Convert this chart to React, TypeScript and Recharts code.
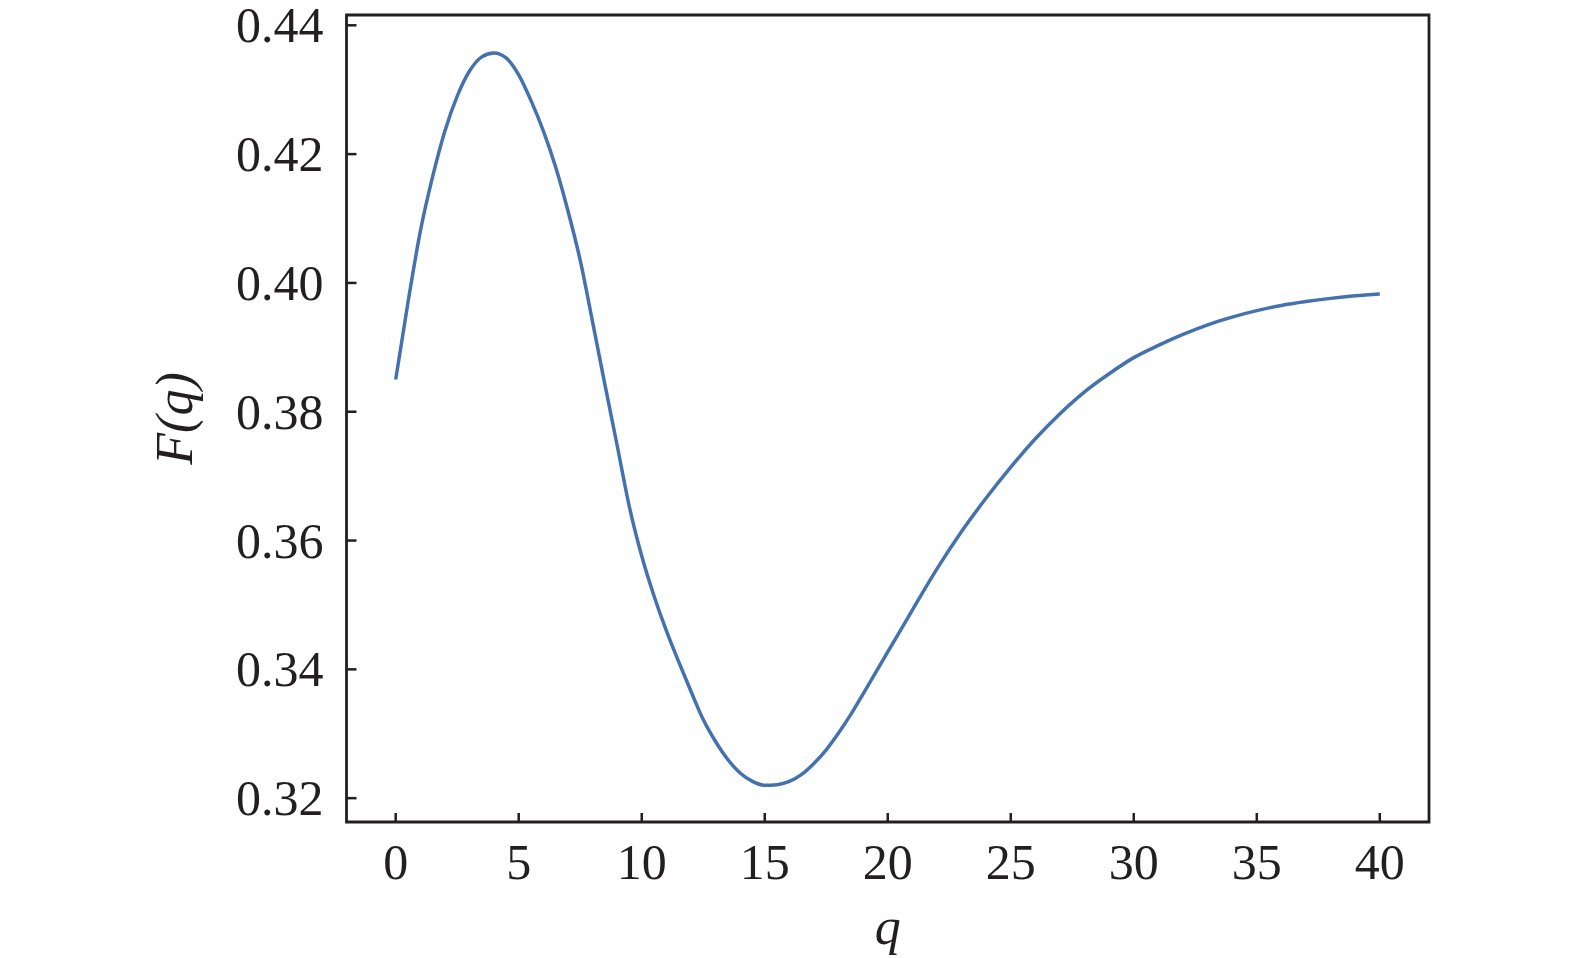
import { LineChart, Line, XAxis, YAxis, ReferenceArea } from "recharts";

// ─── Data ─────────────────────────────────────────────────────────────────────

const qValues = [
  0, 0.5, 1, 1.5, 2, 2.5, 3, 3.5, 4, 4.5, 5, 5.5, 6, 6.5, 7, 7.5, 8, 8.5, 9,
  9.5, 10, 10.5, 11, 11.5, 12, 12.5, 13, 13.5, 14, 14.5, 15, 15.5, 16, 16.5,
  17, 17.5, 18, 18.5, 19, 20, 21, 22, 23, 24, 25, 26, 27, 28, 29, 30, 31, 32,
  33, 34, 35, 36, 37, 38, 39, 40,
];

const fValues = [
  0.385, 0.397, 0.408, 0.4165, 0.4236, 0.429, 0.4329, 0.4351, 0.4357, 0.4349,
  0.4323, 0.4283, 0.4236, 0.418, 0.4112, 0.4035, 0.394, 0.3843, 0.3748,
  0.3652, 0.3576, 0.3514, 0.346, 0.3412, 0.3366, 0.3322, 0.3288, 0.326,
  0.3239, 0.3226, 0.322, 0.3221, 0.3226, 0.3237, 0.3254, 0.3275, 0.3301,
  0.333, 0.3362, 0.3427, 0.3492, 0.3556, 0.3614, 0.3666, 0.3714, 0.3758,
  0.3797, 0.3831, 0.3859, 0.3884, 0.3903, 0.392, 0.3935, 0.3947, 0.3957,
  0.3965, 0.3971, 0.3976, 0.398, 0.3983,
];

const xTicks = [0, 5, 10, 15, 20, 25, 30, 35, 40];
const yTicks = [0.32, 0.34, 0.36, 0.38, 0.4, 0.42, 0.44];

const X_DOMAIN: [number, number] = [-2, 42];
const Y_DOMAIN: [number, number] = [0.3163, 0.4416];

const FONT = '"Liberation Serif", "Times New Roman", serif';
const INK = "#231f20";

// ─── Ticks (marks point inward, labels outside) ───────────────────────────────

function XTick({ x, y, payload }: any) {
  return (
    <g>
      <line x1={x} y1={y} x2={x} y2={y - 9} stroke={INK} strokeWidth={2.5} />
      <text
        x={x}
        y={y + 57}
        textAnchor="middle"
        fontFamily={FONT}
        fontSize={50}
        fill={INK}
      >
        {payload.value}
      </text>
    </g>
  );
}

function YTick({ x, y, payload }: any) {
  return (
    <g>
      <line x1={x} y1={y} x2={x + 10} y2={y} stroke={INK} strokeWidth={2.5} />
      <text
        x={x - 23}
        y={y + 17}
        textAnchor="end"
        fontFamily={FONT}
        fontSize={50}
        fill={INK}
      >
        {Number(payload.value).toFixed(2)}
      </text>
    </g>
  );
}

// ─── Chart ────────────────────────────────────────────────────────────────────

export default function App() {
  const data = qValues.map((q, i) => ({ q, F: fValues[i] }));

  return (
    <div style={{ width: 1567, height: 950, background: "#fff" }}>
      <LineChart
        width={1567}
        height={950}
        data={data}
        margin={{ top: 7, right: 146, bottom: 0, left: 0 }}
      >
        <XAxis
          dataKey="q"
          type="number"
          domain={X_DOMAIN}
          ticks={xTicks}
          allowDataOverflow
          height={136}
          tickSize={0}
          tickMargin={0}
          tickLine={false}
          axisLine={false}
          tick={<XTick />}
          label={{
            value: "q",
            position: "insideBottom",
            offset: 14,
            fontFamily: FONT,
            fontSize: 52,
            fontStyle: "italic",
            fill: INK,
          }}
        />
        <YAxis
          type="number"
          domain={Y_DOMAIN}
          ticks={yTicks}
          allowDataOverflow
          width={338.5}
          tickSize={0}
          tickMargin={0}
          tickLine={false}
          axisLine={false}
          tick={<YTick />}
          label={{
            value: "F(q)",
            angle: -90,
            position: "insideLeft",
            offset: 166,
            fontFamily: FONT,
            fontSize: 52,
            fontStyle: "italic",
            fill: INK,
            style: { textAnchor: "middle" },
          }}
        />
        <ReferenceArea
          x1={X_DOMAIN[0]}
          x2={X_DOMAIN[1]}
          y1={Y_DOMAIN[0]}
          y2={Y_DOMAIN[1]}
          fill="none"
          stroke={INK}
          strokeWidth={2.8}
          ifOverflow="visible"
        />
        <Line
          type="monotone"
          dataKey="F"
          stroke="#4472ae"
          strokeWidth={3.5}
          dot={false}
          isAnimationActive={false}
        />
      </LineChart>
    </div>
  );
}
